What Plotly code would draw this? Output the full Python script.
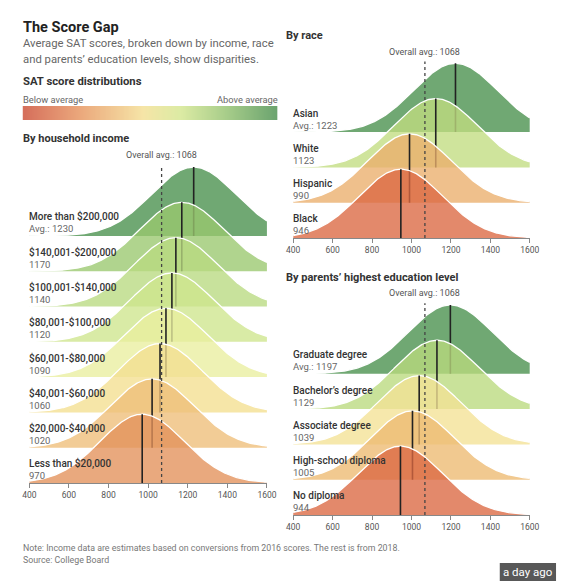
import numpy as np
import plotly.graph_objects as go

# ---------------- data ----------------
income_labels = ["More than $200,000", "$140,001-$200,000", "$100,001-$140,000",
                 "$80,001-$100,000", "$60,001-$80,000", "$40,001-$60,000",
                 "$20,000-$40,000", "Less than $20,000"]
income_avgs = [1230, 1170, 1140, 1120, 1090, 1060, 1020, 970]

race_labels = ["Asian", "White", "Hispanic", "Black"]
race_avgs = [1223, 1123, 990, 946]

edu_labels = ["Graduate degree", "Bachelor’s degree", "Associate degree",
              "High-school diploma", "No diploma"]
edu_avgs = [1197, 1129, 1039, 1005, 944]

overall_avg = 1068
score_sd = 212
x_ticks = [400, 600, 800, 1000, 1200, 1400, 1600]

# ---------------- styles ----------------
income_colors = ['#70a873', '#b0d48e', '#c8e29c', '#d9eba6', '#eef2b4', '#f6e6a8', '#f2cc96', '#e9a97e']
race_colors = ['#70a873', '#cfe49c', '#efc08c', '#e3896b']
edu_colors = ['#70a873', '#c9e29a', '#f6e8ac', '#f1c990', '#e3896b']

W, H = 567, 582
UNIT = 35.3
PEAK = 1.95
ALPHA = 0.78
FONT = "Roboto"


def fx(px):
    return px / W


def fy(py):
    return 1 - py / H


def base_rgba(hexcol, a=ALPHA):
    h = hexcol.lstrip('#')
    rgb = [int(h[i:i + 2], 16) for i in (0, 2, 4)]
    c = [max(0, min(255, round((v - (1 - a) * 255) / a))) for v in rgb]
    return f"rgba({c[0]},{c[1]},{c[2]},{a})"


fig = go.Figure()
annotations = []
shapes = []

panels = [
    dict(key='', labels=income_labels, avgs=income_avgs, colors=income_colors, x0=23, x1=268, axis_py=483),
    dict(key='2', labels=race_labels, avgs=race_avgs, colors=race_colors, x0=295, x1=539, axis_py=238),
    dict(key='3', labels=edu_labels, avgs=edu_avgs, colors=edu_colors, x0=295, x1=539, axis_py=515),
]

xs = np.linspace(400, 1600, 301)
layout_axes = {}
for p in panels:
    k = p['key']
    n = len(p['labels'])
    ymax = n + 1.3
    top_py = p['axis_py'] - ymax * UNIT
    xr = 'x' + k
    yr = 'y' + k
    layout_axes['xaxis' + k] = dict(
        domain=[fx(p['x0']), fx(p['x1'])], range=[400, 1600], anchor=yr,
        tickvals=x_ticks, ticks='outside', ticklen=4, tickcolor='#888',
        showline=True, linecolor='#888', linewidth=1, showgrid=False, zeroline=False,
        tickfont=dict(family=FONT, size=8.5, color='#555'), fixedrange=True)
    layout_axes['yaxis' + k] = dict(
        domain=[fy(p['axis_py']), fy(top_py)], range=[0, ymax], anchor=xr,
        visible=False, fixedrange=True)

    for i, (lab, m, col) in enumerate(zip(p['labels'], p['avgs'], p['colors'])):
        b = n - 1 - i
        ys = b + PEAK * np.exp(-(xs - m) ** 2 / (2 * score_sd ** 2))
        fig.add_trace(go.Scatter(
            x=np.concatenate([xs, [1600, 400]]), y=np.concatenate([ys, [b, b]]),
            fill='toself', fillcolor=base_rgba(col), mode='lines', line=dict(width=0),
            xaxis=xr, yaxis=yr, hoverinfo='skip', showlegend=False))
        fig.add_trace(go.Scatter(
            x=xs, y=ys, mode='lines', line=dict(color='white', width=1.3),
            xaxis=xr, yaxis=yr, hoverinfo='skip', showlegend=False))
        fig.add_trace(go.Scatter(
            x=[m, m], y=[b, b + PEAK], mode='lines', line=dict(color='#222', width=1.6),
            xaxis=xr, yaxis=yr, hoverinfo='skip', showlegend=False))
        val = f"Avg.: {m}" if i == 0 else f"{m}"
        annotations.append(dict(x=400, y=b + 0.54, xref=xr, yref=yr, text=lab,
                                xanchor='left', yanchor='middle', showarrow=False,
                                borderpad=0, borderwidth=0,
                                font=dict(family=FONT, size=10, color='#333', weight=500)))
        annotations.append(dict(x=400, y=b + 0.2, xref=xr, yref=yr, text=val,
                                xanchor='left', yanchor='middle', showarrow=False,
                                borderpad=0, borderwidth=0,
                                font=dict(family=FONT, size=9.5, color='#666')))

    fig.add_trace(go.Scatter(
        x=[overall_avg, overall_avg], y=[0, n + 1.0], mode='lines',
        line=dict(color='#444', width=1.3, dash='dot'),
        xaxis=xr, yaxis=yr, hoverinfo='skip', showlegend=False))
    annotations.append(dict(x=overall_avg, y=n + 1.28, xref=xr, yref=yr,
                            text=f"Overall avg.: {overall_avg}", xanchor='center', yanchor='middle',
                            showarrow=False, font=dict(family=FONT, size=9, color='#555')))

# legend gradient bar
grad = [list(range(101))]
fig.add_trace(go.Heatmap(
    z=grad, xaxis='x4', yaxis='y4', showscale=False, zsmooth='best', hoverinfo='skip',
    colorscale=[[0, '#d6705c'], [0.22, '#eba87c'], [0.47, '#f6e5a7'], [0.62, '#dcebA4'],
                [0.8, '#a8cd8a'], [1, '#6ba46f']]))
layout_axes['xaxis4'] = dict(domain=[fx(16), fx(279)], range=[-0.5, 100.5], visible=False,
                             anchor='y4', fixedrange=True)
layout_axes['yaxis4'] = dict(domain=[fy(120), fy(106)], range=[-0.5, 0.5], visible=False,
                             anchor='x4', fixedrange=True)


def text(xp, yp, t, size, color, weight=400, anchor='left'):
    annotations.append(dict(x=fx(xp), y=fy(yp), xref='paper', yref='paper', text=t,
                            xanchor=anchor, yanchor='middle', showarrow=False,
                            borderpad=0, borderwidth=0,
                            font=dict(family=FONT, size=size, color=color, weight=weight)))


text(16, 27, "The Score Gap", 14.5, '#222', 700)
text(16, 44, "Average SAT scores, broken down by income, race", 11.3, '#666')
text(16, 60, "and parents’ education levels, show disparities.", 11.3, '#666')
text(16, 82, "SAT score distributions", 11.3, '#333', 700)
text(16, 99, "Below average", 9.3, '#666')
text(279, 99, "Above average", 9.3, '#666', anchor='right')
text(16, 138, "By household income", 11, '#333', 700)
text(288, 35, "By race", 11, '#333', 700)
text(288, 277, "By parents’ highest education level", 11, '#333', 700)
text(16, 548, "Note: Income data are estimates based on conversions from 2016 scores. The rest is from 2018.",
     8.8, '#777')
text(16, 560, "Source: College Board", 8.8, '#777')

shapes.append(dict(type='rect', xref='paper', yref='paper', x0=fx(508), x1=fx(566),
                   y0=fy(581), y1=fy(563), fillcolor='#585858', line=dict(width=0)))
text(537, 572, "a day ago", 11.5, 'white', anchor='center')

fig.update_layout(
    width=W, height=H, autosize=False,
    margin=dict(l=0, r=0, t=0, b=0),
    paper_bgcolor='white', plot_bgcolor='rgba(0,0,0,0)',
    showlegend=False, annotations=annotations, shapes=shapes,
    font=dict(family=FONT),
    **layout_axes)

fig.write_html("out.html",
               config={'displayModeBar': False, 'staticPlot': True},
               post_script="document.body.style.margin='0';document.body.style.padding='0';"
                           "document.body.style.overflow='hidden';")
